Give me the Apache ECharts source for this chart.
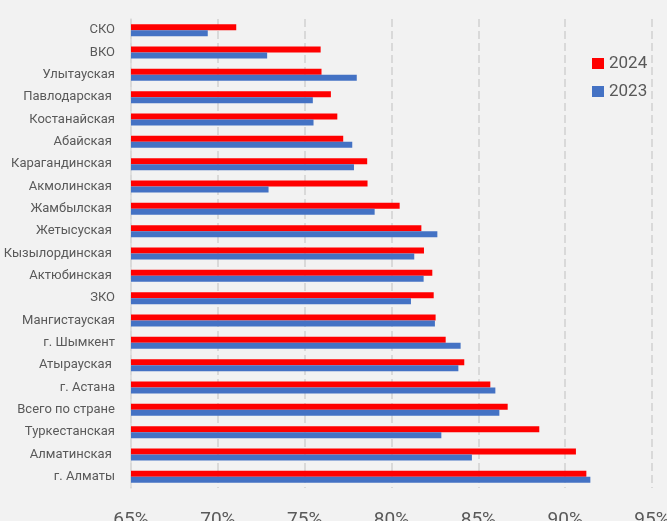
<!DOCTYPE html>
<html><head><meta charset="utf-8">
<script src="https://cdn.jsdelivr.net/npm/echarts@6/dist/echarts.min.js"></script>
<style>html,body{margin:0;padding:0;background:#f2f2f2;}#c{width:667px;height:521px;}</style>
</head><body><div id="c"></div>
<script>
const categories = ['СКО','ВКО','Улытауская','Павлодарская ','Костанайская','Абайская ','Карагандинская ','Акмолинская ','Жамбылская ','Жетысуская ','Кызылординская ','Актюбинская ','ЗКО','Мангистауская','г. Шымкент','Атырауская ','г. Астана','Всего по стране','Туркестанская','Алматинская ','г. Алматы'];
const values2024 = [71.06, 75.92, 75.97, 76.51, 76.88, 77.22, 78.6, 78.62, 80.47, 81.72, 81.87, 82.35, 82.43, 82.54, 83.12, 84.19, 85.69, 86.69, 88.51, 90.62, 91.22];
const values2023 = [69.42, 72.84, 78.0, 75.47, 75.51, 77.74, 77.84, 72.92, 79.03, 82.64, 81.31, 81.85, 81.12, 82.5, 83.98, 83.85, 85.98, 86.21, 82.87, 84.63, 91.45];
const seriesNames = ['2024', '2023'];
const xMin = 65, xMax = 95, xStep = 5;

const FONT = "Roboto, 'Liberation Sans', sans-serif";
const chart = echarts.init(document.getElementById('c'), null, {renderer: 'canvas'});
chart.setOption({
  backgroundColor: '#f2f2f2',
  animation: false,
  textStyle: {fontFamily: FONT},
  grid: {left: 131, right: 15, top: 19, bottom: 33, containLabel: false, outerBoundsMode: 'none'},
  legend: {
    data: seriesNames,
    orient: 'vertical',
    left: 592, top: 55, padding: 0,
    itemWidth: 12, itemHeight: 11, itemGap: 11,
    icon: 'rect',
    textStyle: {fontFamily: FONT, fontSize: 17, color: '#595959'}
  },
  xAxis: {
    type: 'value', min: xMin, max: xMax, interval: xStep,
    axisLine: {show: false}, axisTick: {show: false},
    axisLabel: {formatter: '{value}%', fontFamily: FONT, fontSize: 19, color: '#595959', margin: 23},
    splitLine: {show: true, lineStyle: {color: '#d9d9d9', width: 2, type: [8, 4]}}
  },
  yAxis: {
    type: 'category', data: categories, inverse: true,
    axisLine: {show: true, lineStyle: {color: '#d9d9d9', width: 1.5}},
    axisTick: {show: false},
    axisLabel: {fontFamily: FONT, fontSize: 13, color: '#595959', margin: 16}
  },
  series: [
    {name: seriesNames[0], type: 'bar', data: values2024, barWidth: 6, barGap: '0%', itemStyle: {color: '#ff0000'}},
    {name: seriesNames[1], type: 'bar', data: values2023, barWidth: 6, barGap: '0%', itemStyle: {color: '#4472c4'}}
  ]
});
</script></body></html>
